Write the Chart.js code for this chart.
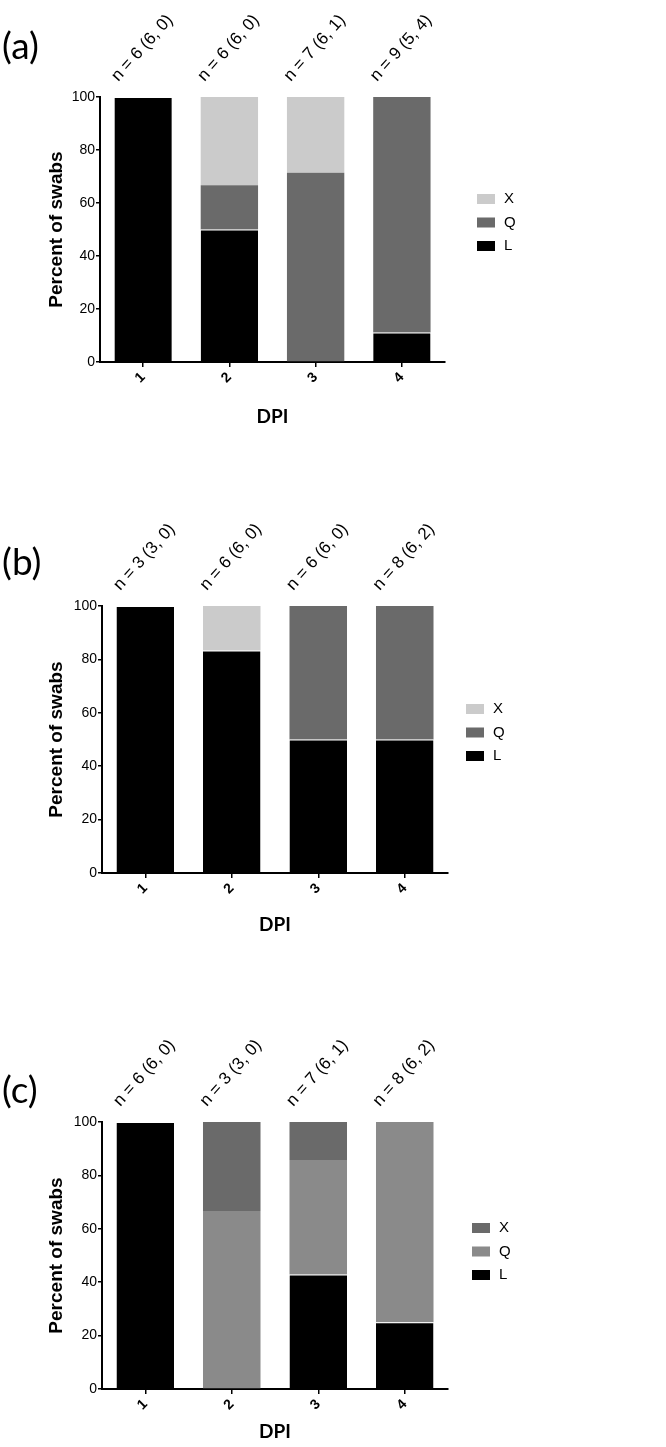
<!DOCTYPE html>
<html>
<head>
<meta charset="utf-8">
<script src="https://cdn.jsdelivr.net/npm/chart.js@4.4.0/dist/chart.umd.min.js"></script>
<style>
  body { margin: 0; background: #fff; width: 666px; height: 1447px; position: relative; overflow: hidden; }
  canvas { position: absolute; left: 0; }
</style>
</head>
<body>
<canvas id="chartA" width="666" height="440" style="top:0"></canvas>
<canvas id="chartB" width="666" height="475" style="top:470px"></canvas>
<canvas id="chartC" width="666" height="487" style="top:960px"></canvas>
<script>
// ---- data ----
const dpiLabels = ['1', '2', '3', '4'];
const yTicks = [0, 20, 40, 60, 80, 100];

// panel (a)
const aL = [100, 50, 0, 11.1];
const aQ = [0, 16.7, 71.4, 88.9];
const aX = [0, 33.3, 28.6, 0];
const aN = ['n = 6 (6, 0)', 'n = 6 (6, 0)', 'n = 7 (6, 1)', 'n = 9 (5, 4)'];

// panel (b)
const bL = [100, 83.3, 50, 50];
const bQ = [0, 0, 50, 50];
const bX = [0, 16.7, 0, 0];
const bN = ['n = 3 (3, 0)', 'n = 6 (6, 0)', 'n = 6 (6, 0)', 'n = 8 (6, 2)'];

// panel (c)
const cL = [100, 0, 42.9, 25];
const cQ = [0, 66.7, 42.9, 75];
const cX = [0, 33.3, 14.3, 0];
const cN = ['n = 6 (6, 0)', 'n = 3 (3, 0)', 'n = 7 (6, 1)', 'n = 8 (6, 2)'];

const FONT = '"Liberation Sans", Arial, sans-serif';

// panel letter, n = ... labels over the bars, and the small legend at the right
const panelDecor = {
  id: 'panelDecor',
  afterDraw(chart, args, o) {
    const { ctx, chartArea } = chart;
    const xs = chart.scales.x;
    ctx.save();
    ctx.fillStyle = '#000';

    ctx.font = '37px Lato, "Open Sans", sans-serif';
    ctx.textAlign = 'left';
    ctx.textBaseline = 'middle';
    ctx.fillText(o.letter, 2, o.letterY);

    ctx.font = '17px ' + FONT;
    o.nLabels.forEach((t, i) => {
      ctx.save();
      ctx.translate(xs.getPixelForValue(i) - 25, chartArea.top - 15);
      ctx.rotate(-48 * Math.PI / 180);
      ctx.textBaseline = 'alphabetic';
      ctx.fillText(t, 0, 0);
      ctx.restore();
    });

    // legend: top entry is the top segment
    const ds = chart.data.datasets.slice().reverse();
    ds.forEach((d, i) => {
      const y = o.legendY + i * 23.5;
      ctx.fillStyle = d.backgroundColor;
      ctx.fillRect(o.legendX, y - 5, 18, 10);
      ctx.fillStyle = '#000';
      ctx.font = '15px ' + FONT;
      ctx.textBaseline = 'middle';
      ctx.fillText(d.label, o.legendX + 27, y);
    });
    ctx.restore();
  }
};

function makePanel(id, L, Q, X, colors, nLabels, p) {
  new Chart(document.getElementById(id), {
    type: 'bar',
    data: {
      labels: dpiLabels,
      datasets: [
        { label: 'L', data: L, backgroundColor: colors[0], borderColor: '#fff',
          borderWidth: { top: 1, left: 0, right: 0, bottom: 0 }, borderSkipped: false },
        { label: 'Q', data: Q, backgroundColor: colors[1], borderWidth: 0 },
        { label: 'X', data: X, backgroundColor: colors[2], borderWidth: 0 }
      ]
    },
    options: {
      responsive: false,
      animation: false,
      barPercentage: 0.665,
      categoryPercentage: 1,
      layout: { padding: { top: p.top, right: 666 - p.right, left: 0, bottom: 0 } },
      plugins: {
        legend: { display: false },
        tooltip: { enabled: false },
        panelDecor: { letter: p.letter, letterY: p.letterY, nLabels, legendX: p.legendX, legendY: p.legendY }
      },
      scales: {
        x: {
          stacked: true,
          afterFit: s => { s.height = p.xh; },
          border: { color: '#000', width: 2 },
          grid: { display: true, drawOnChartArea: false, offset: false, tickLength: 5, color: '#000', lineWidth: 1.5 },
          ticks: { color: '#000', font: { family: FONT, size: 14, weight: 'bold' }, minRotation: 45, maxRotation: 45, padding: 2 },
          title: { display: true, text: 'DPI', color: '#000', font: { family: 'Lato, sans-serif', size: 19, weight: 'bold' },
                   padding: { top: 0, bottom: p.dpiPad } }
        },
        y: {
          stacked: true,
          min: 0, max: 100,
          afterFit: s => { s.width = p.left; },
          afterBuildTicks: s => { s.ticks = yTicks.map(v => ({ value: v })); },
          border: { color: '#000', width: 2 },
          grid: { display: true, drawOnChartArea: false, tickLength: 4, color: '#000', lineWidth: 1.5 },
          ticks: { color: '#000', font: { family: FONT, size: 14 }, padding: 1 },
          title: { display: true, text: 'Percent of swabs', color: '#000', font: { family: FONT, size: 19, weight: 'bold' },
                   padding: { top: 45, bottom: 0 } }
        }
      }
    },
    plugins: [panelDecor]
  });
}

const grayLight = '#cbcbcb', grayDark = '#6a6a6a', grayMid = '#8a8a8a';

makePanel('chartA', aL, aQ, aX, ['#000', grayDark, grayLight], aN,
  { top: 97, right: 445, left: 100, xh: 78, dpiPad: 12, letter: '(a)', letterY: 47, legendX: 477, legendY: 199 });
makePanel('chartB', bL, bQ, bX, ['#000', grayDark, grayLight], bN,
  { top: 136, right: 448, left: 102, xh: 72, dpiPad: 9, letter: '(b)', letterY: 93, legendX: 466, legendY: 239 });
makePanel('chartC', cL, cQ, cX, ['#000', grayMid, grayDark], cN,
  { top: 162, right: 448, left: 102, xh: 58, dpiPad: 4, letter: '(c)', letterY: 131, legendX: 472, legendY: 268 });
</script>
</body>
</html>
